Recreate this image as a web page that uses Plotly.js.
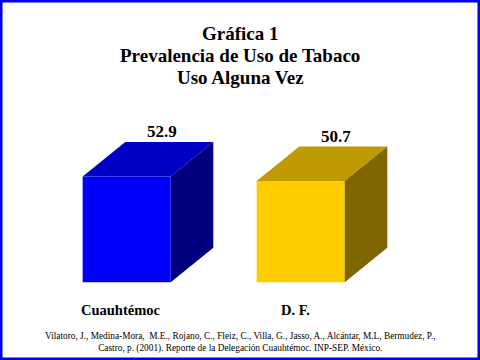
<!DOCTYPE html>
<html>
<head>
<meta charset="utf-8">
<script src="https://cdn.plot.ly/plotly-3.0.1.min.js"></script>
<style>html,body{margin:0;padding:0;background:#fff;}#chart{width:480px;height:360px;}</style>
</head>
<body>
<div id="chart"></div>
<script>
// Data
const categories = ['Cuauhtémoc', 'D. F.'];
const values = [52.9, 50.7];
const valueLabels = ['52.9', '50.7'];
const frontColors = ['#0000FF', '#FFCC00'];
const topColors = ['#0000C4', '#BF9A00'];
const sideColors = ['#00007E', '#7F6600'];
const titleLines = ['Gráfica 1', 'Prevalencia de Uso de Tabaco', 'Uso Alguna Vez'];
const sourceLines = [
  'Vilatoro, J., Medina-Mora,&nbsp; M.E., Rojano, C., Fleiz, C., Villa, G., Jasso, A., Alcántar, M.L, Bermudez, P.,',
  'Castro, p. (2001). Reporte de la Delegación Cuauhtémoc. INP-SEP. México.'
];

// Styling (3D look)
const BAR_W = 0.506;
const DX = 0.245;
const DY = 17.25;

const traces = [];
// front faces
traces.push({
  type: 'bar', x: categories.map((c, i) => i), y: values, width: BAR_W,
  marker: {color: frontColors, line: {width: 0}}, hoverinfo: 'skip', showlegend: false
});
categories.forEach((c, i) => {
  const v = values[i];
  const l = i - BAR_W / 2, r = i + BAR_W / 2;
  traces.push({
    type: 'scatter', mode: 'lines', fill: 'toself', fillcolor: topColors[i],
    line: {width: 0, color: topColors[i]}, hoverinfo: 'skip', showlegend: false,
    x: [l, l + DX, r + DX, r, l], y: [v, v + DY, v + DY, v, v]
  });
  traces.push({
    type: 'scatter', mode: 'lines', fill: 'toself', fillcolor: sideColors[i],
    line: {width: 0, color: sideColors[i]}, hoverinfo: 'skip', showlegend: false,
    x: [r, r, r + DX, r + DX, r], y: [0, v, v + DY, DY, 0]
  });
});

const serif = 'Liberation Serif, Times New Roman, serif';
const annotations = [];
categories.forEach((c, i) => {
  annotations.push({
    x: i + 0.205, y: values[i] + 22.4, xref: 'x', yref: 'y', text: '<b>' + valueLabels[i] + '</b>',
    showarrow: false, font: {family: serif, size: 17, color: '#000'}, xanchor: 'center', yanchor: 'middle'
  });
  annotations.push({
    x: i - 0.03, y: -13.85, xref: 'x', yref: 'y', text: '<b>' + c + '</b>',
    showarrow: false, font: {family: serif, size: 14.5, color: '#000'}, xanchor: 'center', yanchor: 'middle'
  });
});
// title lines (kept individually for exact line spacing)
const titleY = [33, 55, 77];
titleLines.forEach((t, k) => {
  annotations.push({
    x: 0.5, y: 1 - titleY[k] / 360, xref: 'paper', yref: 'paper', text: '<b>' + t + '</b>',
    showarrow: false, font: {family: serif, size: 19, color: '#000'}, xanchor: 'center', yanchor: 'middle'
  });
});
annotations.push({
  x: 0.5, y: 1 - 342.5 / 360, xref: 'paper', yref: 'paper', text: sourceLines.join('<br>'),
  showarrow: false, font: {family: serif, size: 9.3, color: '#000'}, xanchor: 'center', yanchor: 'middle', align: 'center'
});

const layout = {
  width: 480, height: 360,
  margin: {l: 0, r: 0, t: 0, b: 0},
  paper_bgcolor: '#fff', plot_bgcolor: '#fff',
  xaxis: {range: [-0.728, -0.728 + 480 / 174], visible: false, fixedrange: true},
  yaxis: {range: [-38.85, 141.15], visible: false, fixedrange: true},
  showlegend: false,
  annotations: annotations,
  shapes: [{
    type: 'rect', xref: 'paper', yref: 'paper', x0: 0, x1: 1, y0: 0, y1: 1,
    line: {color: '#0000EE', width: 5}, fillcolor: 'rgba(0,0,0,0)'
  }]
};

Plotly.newPlot('chart', traces, layout, {displayModeBar: false, staticPlot: true});
</script>
</body>
</html>
